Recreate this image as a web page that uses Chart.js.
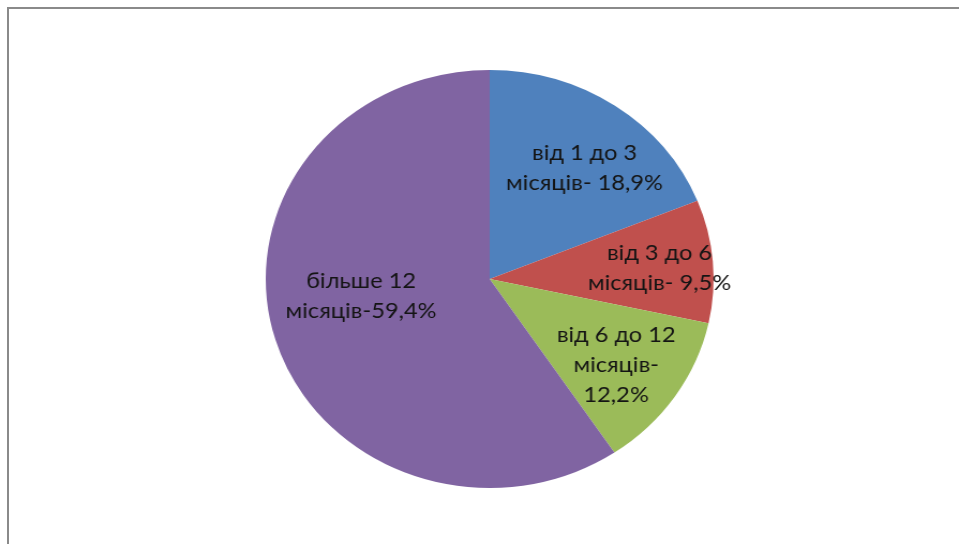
<!DOCTYPE html>
<html>
<head>
<meta charset="utf-8">
<script src="https://cdn.jsdelivr.net/npm/chart.js@4/dist/chart.umd.min.js"></script>
<style>
  html, body { margin: 0; padding: 0; background: #fff; overflow: hidden; }
  #frame { position: absolute; left: 7px; top: 7px; width: 1000px; height: 600px;
           border-top: 2px solid #8a8a8a; border-left: 2px solid #8a8a8a; }
  #wrap { position: absolute; left: 0; top: 0; width: 895px; height: 544px;
          transform: scaleX(1.0715); transform-origin: 0 0; }
</style>
</head>
<body>
<div id="frame"></div>
<div id="wrap"><canvas id="c" width="895" height="544"></canvas></div>
<script>
// Data
const categories = ["від 1 до 3 місяців", "від 3 до 6 місяців", "від 6 до 12 місяців", "більше 12 місяців"];
const values = [18.9, 9.5, 12.2, 59.4];
const labelLines = [
  ["від 1 до 3", "місяців- 18,9%"],
  ["від 3 до 6", "місяців- 9,5%"],
  ["від 6 до 12", "місяців-", "12,2%"],
  ["більше 12", "місяців-59,4%"]
];
const colors = ["#4F81BD", "#C0504D", "#9BBB59", "#8064A2"];

// label placement (fraction of radius, angle shift in degrees)
const labelRadius = [0.68, 0.76, 0.70, 0.58];
const labelShift = [4.5, 1, 2, 9];

const labelPlugin = {
  id: 'sliceLabels',
  afterDatasetsDraw(chart) {
    const ctx = chart.ctx;
    const meta = chart.getDatasetMeta(0);
    ctx.save();
    ctx.font = '22px Lato, "Open Sans", sans-serif';
    ctx.fillStyle = '#141414';
    ctx.textAlign = 'center';
    ctx.textBaseline = 'middle';
    const lh = 30;
    meta.data.forEach((arc, i) => {
      const p = arc.getProps(['x', 'y', 'startAngle', 'endAngle', 'outerRadius'], true);
      const mid = (p.startAngle + p.endAngle) / 2 + labelShift[i] * Math.PI / 180;
      const r = p.outerRadius * labelRadius[i];
      const cx = p.x + Math.cos(mid) * r;
      const cy = p.y + Math.sin(mid) * r;
      const lines = labelLines[i];
      const y0 = cy - (lines.length - 1) * lh / 2;
      lines.forEach((t, k) => ctx.fillText(t, cx, y0 + k * lh));
    });
    ctx.restore();
  }
};

new Chart(document.getElementById('c'), {
  type: 'pie',
  data: {
    labels: categories,
    datasets: [{
      data: values,
      backgroundColor: colors,
      borderWidth: 0
    }]
  },
  options: {
    responsive: false,
    animation: false,
    layout: { padding: { top: 70, bottom: 56, left: 19, right: 0 } },
    plugins: {
      legend: { display: false },
      tooltip: { enabled: false }
    }
  },
  plugins: [labelPlugin]
});
</script>
</body>
</html>
